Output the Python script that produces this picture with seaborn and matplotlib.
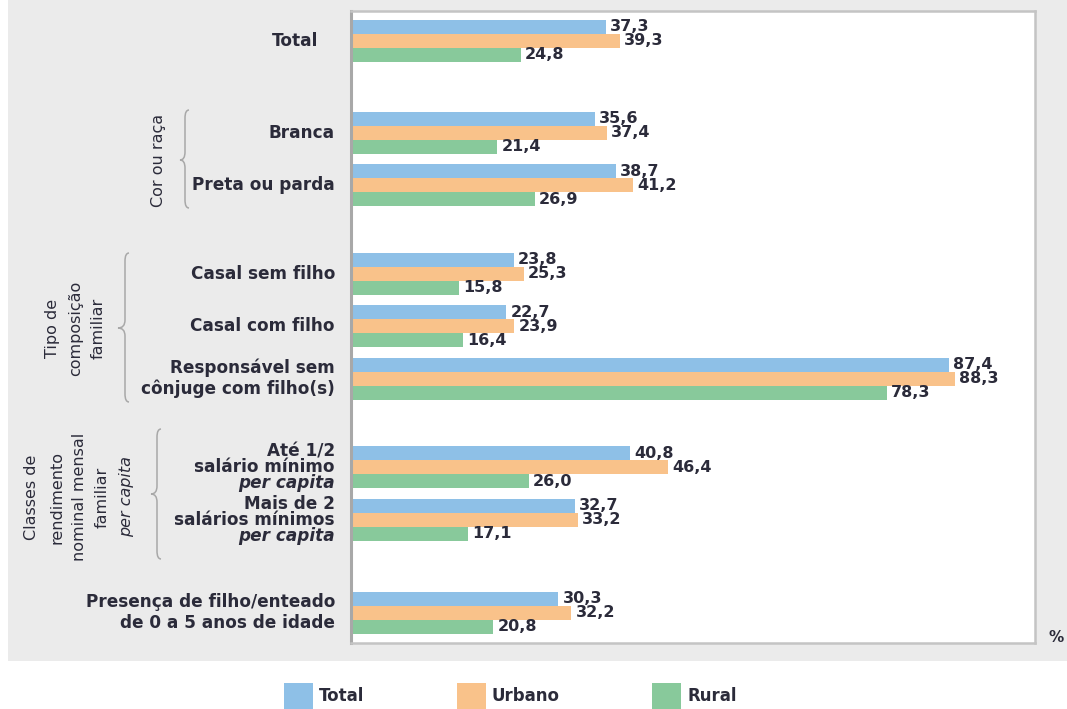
import numpy as np
import pandas as pd
import seaborn as sns
import matplotlib.pyplot as plt
from matplotlib.patches import Rectangle, PathPatch
from matplotlib.path import Path
from matplotlib import transforms

# ---------------- data ----------------
categories = [
    "Total", "Branca", "Preta ou parda", "Casal sem filho", "Casal com filho",
    "Responsável sem cônjuge com filho(s)", "Até 1/2 salário mínimo per capita",
    "Mais de 2 salários mínimos per capita",
    "Presença de filho/enteado de 0 a 5 anos de idade",
]
total = [37.3, 35.6, 38.7, 23.8, 22.7, 87.4, 40.8, 32.7, 30.3]
urbano = [39.3, 37.4, 41.2, 25.3, 23.9, 88.3, 46.4, 33.2, 32.2]
rural = [24.8, 21.4, 26.9, 15.8, 16.4, 78.3, 26.0, 17.1, 20.8]
series = ["Total", "Urbano", "Rural"]

label_lines = [
    [("Total", "normal")],
    [("Branca", "normal")],
    [("Preta ou parda", "normal")],
    [("Casal sem filho", "normal")],
    [("Casal com filho", "normal")],
    [("Responsável sem", "normal"), ("cônjuge com filho(s)", "normal")],
    [("Até 1/2", "normal"), ("salário mínimo", "normal"), ("per capita", "italic")],
    [("Mais de 2", "normal"), ("salários mínimos", "normal"), ("per capita", "italic")],
    [("Presença de filho/enteado", "normal"), ("de 0 a 5 anos de idade", "normal")],
]

# ---------------- layout / style ----------------
row_pos = [0, 1.75, 2.75, 4.43, 5.43, 6.43, 8.12, 9.12, 10.89]
colors = ["#8ec0e7", "#f9c28a", "#88c99b"]
txt_color = "#2b2b3a"
W, H = 1067, 709

def fx(px):
    return px / W

def fy(py):
    return 1 - py / H

df = pd.DataFrame({
    "pos": np.repeat(row_pos, 3),
    "series": series * len(categories),
    "value": np.ravel(np.column_stack([total, urbano, rural])),
})

sns.set_theme(style="white")
plt.rcParams["font.family"] = ["DejaVu Sans"]

fig = plt.figure(figsize=(W / 100, H / 100), dpi=100)
fig.patch.set_facecolor("white")
fig.add_artist(Rectangle((fx(8), fy(661)), 1 - fx(8), 661 / H,
                         transform=fig.transFigure, facecolor="#ebebeb",
                         edgecolor="none", zorder=-10))

ax = fig.add_axes([fx(351), fy(643), fx(1035) - fx(351), (643 - 11) / H])
ax.set_facecolor("white")

sns.barplot(data=df, x="value", y="pos", hue="series", hue_order=series,
            palette=colors, orient="y", native_scale=True, width=0.8,
            linewidth=0, saturation=1, ax=ax)

ax.set_xlim(0, 100)
ax.set_ylim(11.467, -0.571)
ax.set_xticks([])
ax.set_yticks([])
ax.set_xlabel("")
ax.set_ylabel("")

handles, labels = ax.get_legend_handles_labels()
if ax.get_legend() is not None:
    ax.get_legend().remove()

for cont, vals in zip(ax.containers, [total, urbano, rural]):
    ax.bar_label(cont, labels=[f"{v:.1f}".replace(".", ",") for v in vals],
                 padding=3, fontsize=11.5, fontweight="bold", color=txt_color)

for side in ["top", "right", "bottom"]:
    ax.spines[side].set_color("#c4c4c4")
    ax.spines[side].set_linewidth(1.8)
ax.spines["left"].set_color("#a8a8a8")
ax.spines["left"].set_linewidth(2.2)

# category labels
px_per_unit = 52.5
offsets = {1: [0], 2: [-10.5, 10.5], 3: [-16, 0, 16]}
trans = transforms.blended_transform_factory(ax.transAxes, ax.transData)
for i, (pos, lines) in enumerate(zip(row_pos, label_lines)):
    xoff = -33 / 684 if i == 0 else -16 / 684
    for (txt, style), off in zip(lines, offsets[len(lines)]):
        ax.text(xoff, pos + off / px_per_unit, txt, transform=trans,
                ha="right", va="center", fontsize=12.2, fontweight="bold",
                fontstyle=style, color=txt_color)

# group labels (rotated)
group_texts = [
    [("Cor ou raça", "normal", 159)],
    [("Tipo de", "normal", 52), ("composição", "normal", 76), ("familiar", "normal", 98)],
    [("Classes de", "normal", 32), ("rendimento", "normal", 57),
     ("nominal mensal", "normal", 80), ("familiar", "normal", 102),
     ("per capita", "italic", 127)],
]
group_y = [160, 328, 497]
for lines, gy in zip(group_texts, group_y):
    for txt, style, gx in lines:
        fig.text(fx(gx), fy(gy), txt, rotation=90, ha="center", va="center",
                 fontsize=11.5, fontstyle=style, color=txt_color)

# braces
def brace(x_stem, x_tip, y_top, y_bot, y_mid, r=8, d=4):
    pts = [
        (x_stem + d, y_top), (x_stem, y_top), (x_stem, y_top + r),
        (x_stem, y_mid - r), (x_stem, y_mid), (x_tip, y_mid),
        (x_stem, y_mid), (x_stem, y_mid + r),
        (x_stem, y_bot - r), (x_stem, y_bot), (x_stem + d, y_bot),
    ]
    codes = [Path.MOVETO, Path.CURVE3, Path.CURVE3, Path.LINETO, Path.CURVE3,
             Path.CURVE3, Path.CURVE3, Path.CURVE3, Path.LINETO, Path.CURVE3,
             Path.CURVE3]
    verts = [(fx(x), fy(y)) for x, y in pts]
    fig.add_artist(PathPatch(Path(verts, codes), transform=fig.transFigure,
                             facecolor="none", edgecolor="#a8a8a8", lw=1.1))

brace(185, 180, 110, 208, 160)
brace(125, 118, 253, 402, 328)
brace(157, 151, 429, 559, 494)

fig.text(fx(1056), fy(638), "%", ha="center", va="center", fontsize=11,
         fontweight="bold", color=txt_color)

leg = fig.legend(handles, labels, loc="center left",
                 bbox_to_anchor=(fx(284), fy(696)), ncol=3, frameon=False,
                 fontsize=12, handlelength=1.74, handleheight=2.1,
                 handletextpad=0.36, columnspacing=5.55, borderpad=0,
                 borderaxespad=0)
for t in leg.get_texts():
    t.set_fontweight("bold")
    t.set_color(txt_color)

fig.savefig("out.png", dpi=100)
